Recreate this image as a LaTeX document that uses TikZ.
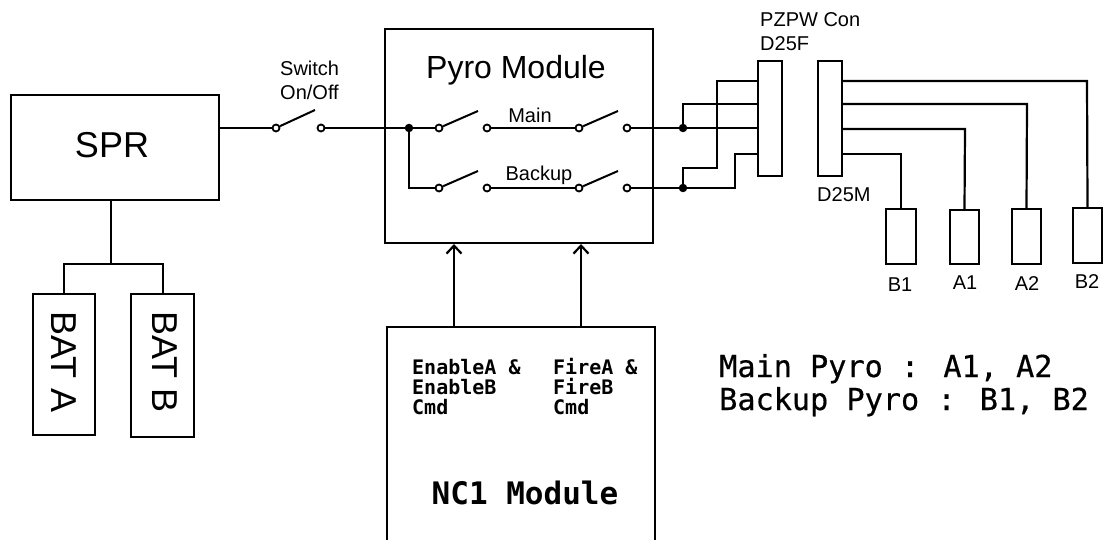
\documentclass[tikz,border=0pt]{standalone}
\usepackage{fontspec}
\setmainfont{Liberation Sans}
\newfontfamily\monof[FakeBold=0.5]{DejaVu Sans Mono}
\newfontfamily\monob{DejaVu Sans Mono Bold}
\usetikzlibrary{arrows.meta}
\tikzset{
  wire/.style={line width=2.2pt},
  box/.style={draw,line width=2.2pt,fill=white,inner sep=0pt},
  lbl/.style={inner sep=0pt,font=\fontsize{20}{22}\selectfont},
  contact/.style={circle,draw,line width=1.8pt,fill=white,minimum size=7pt,inner sep=0pt},
  dot/.style={circle,fill=black,minimum size=8.5pt,inner sep=0pt},
  blade/.style={line width=2pt},
  cmd/.style={inner sep=0pt,anchor=base west,font=\monob\fontsize{20}{20}\selectfont},
  pyro/.style={inner sep=0pt,anchor=base west,font=\monof\fontsize{30.2}{30}\selectfont}
}
\begin{document}
\begin{tikzpicture}[x=1pt,y=-1pt]
\useasboundingbox (0,0) rectangle (1103,540);
% boxes
\node[box,minimum width=208pt,minimum height=105pt] (spr) at (115,147.5) {};
\node[inner sep=0pt,font=\fontsize{36}{40}\selectfont] (sprt) at (112,145) {SPR};
\node[box,minimum width=62pt,minimum height=141pt] (bata) at (64,364.5) {};
\node[box,minimum width=63pt,minimum height=143pt] (batb) at (162.5,365.5) {};
\node[inner sep=0pt,rotate=-90,font=\fontsize{36}{40}\selectfont] (batat) at (64,362) {BAT A};
\node[inner sep=0pt,rotate=-90,font=\fontsize{36}{40}\selectfont] (batbt) at (165,362) {BAT B};
\node[box,minimum width=268pt,minimum height=214pt] (pyro) at (519,136) {};
\node[inner sep=0pt,font=\fontsize{32}{36}\selectfont] (pyrot) at (516,70) {Pyro Module};
% NC1 open at the bottom
\coordinate (ncbl) at (387,541);
\coordinate (nctl) at (387,327);
\coordinate (nctr) at (655,327);
\coordinate (ncbr) at (655,541);
\draw[wire] (ncbl) -- (nctl) -- (nctr) -- (ncbr);
\node[cmd] (en1) at (412,374) {EnableA \&};
\node[cmd] (en2) at (412,394) {EnableB};
\node[cmd] (en3) at (412,414) {Cmd};
\node[cmd] (fi1) at (553,374) {FireA \&};
\node[cmd] (fi2) at (553,394) {FireB};
\node[cmd] (fi3) at (553,414) {Cmd};
\node[inner sep=0pt,font=\monob\fontsize{31}{32}\selectfont] (nc1) at (525,493) {NC1 Module};
% arrows
\coordinate (a1b) at (454,327); \coordinate (a1t) at (454,244);
\coordinate (a2b) at (581,327); \coordinate (a2t) at (581,244);
\draw[wire,-{Straight Barb[length=8pt,width=15pt]}] (a1b) -- (a1t);
\draw[wire,-{Straight Barb[length=8pt,width=15pt]}] (a2b) -- (a2t);
% battery wires
\coordinate (tr) at (111,264);
\coordinate (tl) at (64,264);
\coordinate (tb) at (163,264);
\draw[wire] (111,200) -- (tr);
\draw[wire] (64,294) -- (tl) -- (tb) -- (163,294);
% contacts
\node[contact] (s0a) at (276,128) {};
\node[contact] (s0b) at (321,128) {};
\node[contact] (m1a) at (439,128) {};
\node[contact] (m1b) at (487,128) {};
\node[contact] (m2a) at (579,128) {};
\node[contact] (m2b) at (627,128) {};
\node[contact] (b1a) at (439,188) {};
\node[contact] (b1b) at (487,188) {};
\node[contact] (b2a) at (579,188) {};
\node[contact] (b2b) at (627,188) {};
\node[dot] (j0) at (409,128) {};
\node[dot] (j1) at (683,128) {};
\node[dot] (j2) at (683,188) {};
% blades
\draw[blade] (s0a) -- (315,110);
\draw[blade] (m1a) -- (478,111);
\draw[blade] (m2a) -- (618,111);
\draw[blade] (b1a) -- (478,171);
\draw[blade] (b2a) -- (618,171);
% horizontal wires
\draw[wire] (219,128) -- (s0a);
\draw[wire] (s0b) -- (j0) -- (m1a);
\draw[wire] (j0) |- (b1a);
\draw[wire] (m1b) -- (m2a);
\draw[wire] (b1b) -- (b2a);
% connectors
\node[box,minimum width=24pt,minimum height=115pt] (cf) at (770,118.5) {};
\node[box,minimum width=24pt,minimum height=115pt] (cm) at (830,118.5) {};
% pyro boxes
\node[box,minimum width=30pt,minimum height=55pt] (bb1) at (901,236.5) {};
\node[box,minimum width=29pt,minimum height=54pt] (ba1) at (964.5,237) {};
\node[box,minimum width=29pt,minimum height=55pt] (ba2) at (1026.5,236.5) {};
\node[box,minimum width=29pt,minimum height=55pt] (bb2) at (1087.5,235.5) {};
% left harness
\draw[wire] (m2b) -- (j1) -- (758,128);
\draw[wire] (j1) -- (683,104) -- (758,104);
\draw[wire] (b2b) -- (j2) -- (735,188) -- (735,154) -- (758,154);
\draw[wire] (j2) -- (683,168) -- (717,168) -- (717,81) -- (758,81);
% right harness
\draw[wire] (842,81) -- (1087,81) -- (bb2.north);
\draw[wire] (842,104) -- (1027,104) -- (ba2.north);
\draw[wire] (842,129) -- (965,129) -- (ba1.north);
\draw[wire] (842,154) -- (901,154) -- (bb1.north);
% labels
\node[lbl,anchor=west] (sw) at (280,68) {Switch};
\node[lbl,anchor=west] (of) at (280,92) {On/Off};
\node[lbl] (lm) at (530,115) {Main};
\node[lbl] (lb) at (539,175) {Backup};
\node[lbl,anchor=west] (pz) at (760,20) {PZPW Con};
\node[lbl,anchor=west] (df) at (760,44) {D25F};
\node[lbl,anchor=west] (dm) at (817,195) {D25M};
\node[lbl] (t1) at (900,285) {B1};
\node[lbl] (t2) at (965,283) {A1};
\node[lbl] (t3) at (1027,284) {A2};
\node[lbl] (t4) at (1087,282) {B2};
\node[pyro] (mp) at (719,377) {Main Pyro : A1, A2};
\node[pyro] (bp) at (719,410) {Backup Pyro : B1, B2};
\end{tikzpicture}
\end{document}
